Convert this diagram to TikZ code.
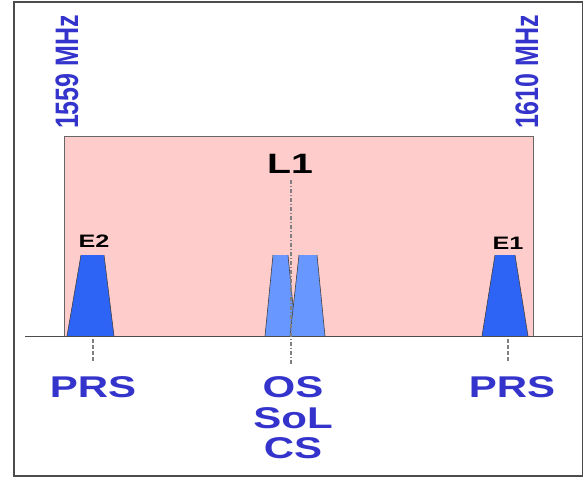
\documentclass[tikz,border=0pt]{standalone}
\usepackage{fontspec}
\setmainfont{Liberation Sans}
\usetikzlibrary{calc}
\definecolor{bandpink}{RGB}{255,204,204}
\definecolor{sigblue}{RGB}{46,100,246}
\definecolor{siglight}{RGB}{104,152,255}
\definecolor{labblue}{RGB}{52,52,204}
\tikzset{
  freqlabel/.style={text=labblue, font=\fontsize{25}{25}\selectfont, inner sep=0pt, rotate=90},
  svclabel/.style={text=labblue, font=\bfseries\fontsize{30}{30}\selectfont, inner sep=0pt},
  signame/.style={text=black, font=\bfseries\fontsize{18}{18}\selectfont, inner sep=0pt},
  bandname/.style={text=black, font=\bfseries\fontsize{28}{28}\selectfont, inner sep=0pt},
  signal/.style={fill=sigblue},
  signallight/.style={fill=siglight},
  edge/.style={draw=black!75, line width=0.6pt},
  centerline/.style={draw=gray, line width=1.2pt, dash pattern=on 4pt off 2pt on 1pt off 2pt},
  tickline/.style={draw=gray, line width=1.2pt, dash pattern=on 4pt off 2pt}
}
\newcommand{\wide}[1]{\scalebox{1.4}[1]{#1}}
\begin{document}
\begin{tikzpicture}[x=1pt, y=-1pt]
\useasboundingbox (0,0) rectangle (584,480);
% outer frame
\draw[black!70, line width=1.5pt] (14,2) rectangle (582.5,476);
% allocated band
\draw[fill=bandpink, draw=black!60, line width=1pt] (64,136) rectangle (533,336);
% frequency limits
\node[freqlabel] (flo) at (67,72) {\scalebox{1}[1.3]{\textbf{1559 MHz}}};
\node[freqlabel] (fhi) at (527,72) {\scalebox{1}[1.3]{\textbf{1610 MHz}}};
% E2 signal
\fill[signal] (67,336) -- (81,255) -- (104,255) -- (114,336) -- cycle;
\draw[edge] (67,336) -- (81,255) (104,255) -- (114,336);
% E1 signal
\fill[signal] (482,336) -- (495,255) -- (515,255) -- (528,336) -- cycle;
\draw[edge] (482,336) -- (495,255) (515,255) -- (528,336);
% L1 pair of signals
\fill[signallight] (265,336) -- (273,255) -- (288,255) -- (296,336) -- cycle;
\draw[edge] (265,336) -- (273,255) (288,255) -- (296,336);
\fill[signallight] (290,336) -- (299,255) -- (317,255) -- (325,336) -- cycle;
\draw[edge] (290,336) -- (299,255) (317,255) -- (325,336);
% frequency axis
\coordinate (axl) at (25,336);
\coordinate (axr) at (582,336);
\draw[black!70, line width=1pt] (axl) -- (axr);
% names of the signals
\node[bandname] (l1) at (290,164) {\wide{L1}};
\node[signame] (e2) at (94,241) {\wide{E2}};
\node[signame] (e1) at (508,243) {\wide{E1}};
% centre and tick lines
\coordinate (ctop) at (291,180);
\coordinate (cbot) at (291,365);
\draw[centerline] (ctop) -- (cbot);
\coordinate (t2a) at (93,339);
\coordinate (t2b) at (93,362);
\coordinate (t1a) at (508,339);
\coordinate (t1b) at (508,362);
\draw[tickline] (t2a) -- (t2b);
\draw[tickline] (t1a) -- (t1b);
% services
\node[svclabel] (prsl) at (93,387) {\wide{PRS}};
\node[svclabel] (prsr) at (512,387) {\wide{PRS}};
\node[svclabel] (os) at (293,387) {\wide{OS}};
\node[svclabel] (sol) at (293,418) {\wide{SoL}};
\node[svclabel] (cs) at (293,448) {\wide{CS}};
\end{tikzpicture}
\end{document}
